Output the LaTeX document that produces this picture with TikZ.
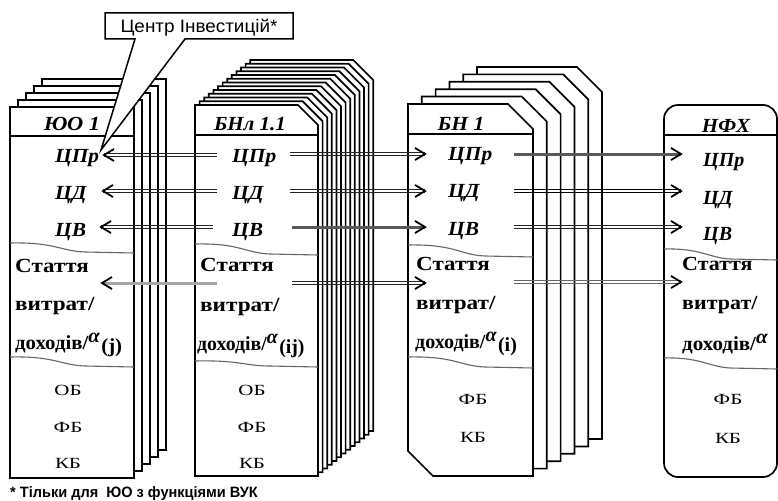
\documentclass[tikz,border=0pt]{standalone}
\usepackage{fontspec}
\setmainfont{Liberation Serif}
\newfontfamily\sansf{Liberation Sans}
\newcommand{\dline}[3][]{\draw[thinln,#1] ([yshift=1.3pt]#2) -- ([yshift=1.3pt]#3) ([yshift=-1.3pt]#2) -- ([yshift=-1.3pt]#3);}
\newcommand{\supsub}[1]{\raisebox{6.5pt}{\itshape α}\hspace{1.5pt}\raisebox{-3pt}{#1}}
\newcommand{\sx}[2]{\scalebox{#1}[1]{#2}}
\begin{document}
\begin{tikzpicture}[x=1pt,y=-1pt,
 boxline/.style={line width=1.7pt, draw=black, fill=white, line join=miter},
 hdr/.style={line width=1.1pt},
 wave/.style={line width=1.1pt, draw=black!60},
 ttl/.style={font=\fontsize{20}{20}\selectfont\bfseries\itshape, inner sep=0pt, anchor=base},
 lbl/.style={font=\fontsize{20}{20}\selectfont\bfseries\itshape, inner sep=0pt, anchor=base west},
 art/.style={font=\fontsize{20}{20}\selectfont\bfseries, inner sep=0pt, anchor=base west},
 bud/.style={font=\fontsize{15.5}{15.5}\selectfont, inner sep=0pt, anchor=base},
 thinln/.style={draw=black!85, line width=0.8pt},
 thickdark/.style={draw=black!65, line width=3pt},
 thicklight/.style={draw=black!35, line width=3pt},
 chev/.style={line width=1.8pt, line join=miter, line cap=butt},
 tipR/.pic={\draw[chev] (-10,-6) -- (0,0) -- (-10,6);},
 tipL/.pic={\draw[chev] (10,-6) -- (0,0) -- (10,6);},
]
\useasboundingbox (0,0) rectangle (778,500);
% ---------- column 1 : stacked rectangles
\foreach \i in {4,3,2,1,0}{
  \draw[boxline] ({10+8*\i},{107-7*\i}) rectangle ({134+8*\i},{478-7*\i});
}
\draw[hdr] (10,136) -- (134,136);
\draw[wave] (10,243) .. controls (55,242) and (60,251) .. (85,252) -- (134,253);
\draw[wave] (10,357) .. controls (55,356) and (60,365) .. (85,366) -- (134,367);
% ---------- column 2 : stacked chamfered boxes
\foreach \i in {12,11,...,0}{
  \pgfmathsetmacro\dx{4.6*\i}\pgfmathsetmacro\dy{3.75*\i}
  \draw[boxline] ({195+\dx},{105-\dy}) -- ({298+\dx},{105-\dy}) -- ({318+\dx},{125-\dy})
     -- ({318+\dx},{476-\dy}) -- ({195+\dx},{476-\dy}) -- cycle;
}
\draw[hdr] (195,135) -- (318,135);
\draw[wave] (195,244) .. controls (240,243) and (245,253) .. (270,254) -- (318,255);
\draw[wave] (195,361) .. controls (240,360) and (245,366) .. (270,366) -- (318,367);
% ---------- column 3 : stacked double-chamfered boxes
\foreach \i in {5,4,...,0}{
  \pgfmathsetmacro\dx{13.8*\i}\pgfmathsetmacro\dy{7.4*\i}
  \draw[boxline] ({408+\dx},{104-\dy}) -- ({508+\dx},{104-\dy}) -- ({533+\dx},{129-\dy})
     -- ({533+\dx},{476-\dy}) -- ({433+\dx},{476-\dy}) -- ({408+\dx},{451-\dy}) -- cycle;
}
\draw[hdr] (408,134) -- (533,134);
\draw[wave] (408,245) .. controls (455,244) and (460,255) .. (485,256) -- (533,257);
\draw[wave] (408,357) .. controls (455,356) and (460,366) .. (485,367) -- (533,368);
% ---------- column 4 : rounded box
\draw[boxline, rounded corners=14] (664,105) rectangle (777,477);
\draw[hdr] (664,135) -- (777,135);
\draw[wave] (664,249) .. controls (700,248) and (710,258) .. (730,259) -- (777,260);
\draw[wave] (664,358) .. controls (700,357) and (710,367) .. (730,368) -- (777,369);

% ---------- texts column 1
\node[ttl] (t1) at (72,131) {\sx{1.12}{ЮО 1}};
\node[lbl] (c1a) at (55,162) {\sx{1.07}{ЦПр}};
\node[lbl] (c1b) at (55,199) {\sx{1.07}{ЦД}};
\node[lbl] (c1c) at (55,236) {\sx{1.07}{ЦВ}};
\node[art] (s1a) at (15,272) {\sx{1.15}{Стаття}};
\node[art] (s1b) at (15,310) {\sx{1.16}{витрат/}};
\node[art] (s1c) at (15,349) {\sx{1.04}{доходів/\supsub{(j)}}};
\node[bud] (b1a) at (68,395) {\sx{1.35}{ОБ}};
\node[bud] (b1b) at (68,432) {\sx{1.35}{ФБ}};
\node[bud] (b1c) at (68,468) {\sx{1.35}{КБ}};
% ---------- texts column 2
\node[ttl] (t2) at (250,131) {\sx{1.05}{БНл 1.1}};
\node[lbl] (c2a) at (232,162) {\sx{1.07}{ЦПр}};
\node[lbl] (c2b) at (232,199) {\sx{1.07}{ЦД}};
\node[lbl] (c2c) at (232,236) {\sx{1.07}{ЦВ}};
\node[art] (s2a) at (200,271) {\sx{1.15}{Стаття}};
\node[art] (s2b) at (200,311) {\sx{1.16}{витрат/}};
\node[art] (s2c) at (197,350) {\sx{0.99}{доходів/\supsub{(ij)}}};
\node[bud] (b2a) at (252,395) {\sx{1.35}{ОБ}};
\node[bud] (b2b) at (252,432) {\sx{1.35}{ФБ}};
\node[bud] (b2c) at (252,468) {\sx{1.35}{КБ}};
% ---------- texts column 3
\node[ttl] (t3) at (461,130) {\sx{1.08}{БН 1}};
\node[lbl] (c3a) at (448,160) {\sx{1.07}{ЦПр}};
\node[lbl] (c3b) at (448,197) {\sx{1.07}{ЦД}};
\node[lbl] (c3c) at (448,235) {\sx{1.07}{ЦВ}};
\node[art] (s3a) at (416,270) {\sx{1.15}{Стаття}};
\node[art] (s3b) at (416,309) {\sx{1.16}{витрат/}};
\node[art] (s3c) at (415,348) {\sx{1.0}{доходів/\supsub{(i)}}};
\node[bud] (b3b) at (473,404) {\sx{1.35}{ФБ}};
\node[bud] (b3c) at (473,442) {\sx{1.35}{КБ}};
% ---------- texts column 4
\node[ttl] (t4) at (726,132) {\sx{1.05}{НФХ}};
\node[lbl] (c4a) at (703,166) {\sx{1.0}{ЦПр}};
\node[lbl] (c4b) at (703,204) {\sx{1.0}{ЦД}};
\node[lbl] (c4c) at (703,240) {\sx{1.0}{ЦВ}};
\node[art] (s4a) at (682,270) {\sx{1.1}{Стаття}};
\node[art] (s4b) at (682,309) {\sx{1.1}{витрат/}};
\node[art] (s4c) at (682,350) {\sx{1.05}{доходів/\raisebox{6.5pt}{\itshape α}}};
\node[bud] (b4b) at (728,404) {\sx{1.35}{ФБ}};
\node[bud] (b4c) at (728,443) {\sx{1.35}{КБ}};

% ---------- connector end points
\coordinate (p1a) at (217,155); \coordinate (q1a) at (104,155);
\coordinate (p1b) at (217,191); \coordinate (q1b) at (103,191);
\coordinate (p1c) at (213,227); \coordinate (q1c) at (101,227);
\coordinate (p1d) at (217,283); \coordinate (q1d) at (102,283);
\coordinate (p2a) at (290,154); \coordinate (q2a) at (425,154);
\coordinate (p2b) at (290,191); \coordinate (q2b) at (425,191);
\coordinate (p2c) at (292,227); \coordinate (q2c) at (425,227);
\coordinate (p2d) at (292,283); \coordinate (q2d) at (425,283);
\coordinate (p3a) at (514,154); \coordinate (q3a) at (681,154);
\coordinate (p3b) at (514,191); \coordinate (q3b) at (681,191);
\coordinate (p3c) at (514,227); \coordinate (q3c) at (681,227);
\coordinate (p3d) at (514,282); \coordinate (q3d) at (681,282);

% ---------- connectors
\dline{p1a}{q1a} \dline{p1b}{q1b} \dline{p1c}{q1c}
\draw[thicklight] (p1d) -- (q1d);
\dline{p2a}{q2a} \dline{p2b}{q2b}
\draw[thickdark] (p2c) -- (q2c);
\dline{p2d}{q2d}
\draw[thickdark] (p3a) -- (q3a);
\dline[draw=black, line width=1pt]{p3b}{q3b} \dline{p3c}{q3c} \dline[draw=black!60]{p3d}{q3d}
\foreach \c in {q1a,q1b,q1c,q1d}{ \pic at (\c) {tipL}; }
\foreach \c in {q2a,q2b,q2c,q2d,q3a,q3b,q3c,q3d}{ \pic at (\c) {tipR}; }

% ---------- callout
\draw[boxline, line width=1.5pt] (105,13) -- (293,13) -- (293,39) -- (185,39) -- (101,150)
   -- (135,39) -- (105,39) -- cycle;
\node[font=\sansf\fontsize{18}{18}\selectfont, inner sep=0pt, anchor=base] (ci) at (199,33)
  {\sx{1.05}{Центр Інвестицій*}};
% ---------- footnote
\node[font=\sansf\bfseries\fontsize{15}{15}\selectfont, inner sep=0pt, anchor=base west] (fn) at (10,497)
  {\sx{0.97}{* Тільки для\ \ ЮО з функціями ВУК}};
\end{tikzpicture}
\end{document}
